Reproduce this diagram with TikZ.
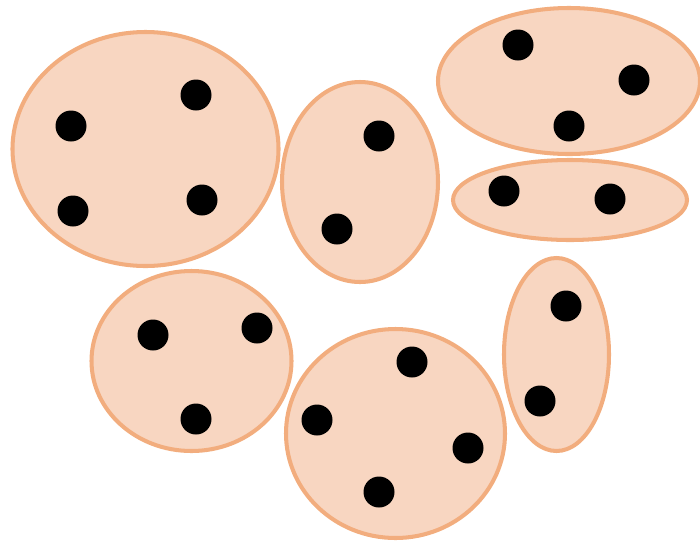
\documentclass[tikz,border=0pt]{standalone}
\usepackage{xcolor}
\usetikzlibrary{positioning}
\definecolor{blobfill}{HTML}{F8D6C1}
\definecolor{blobedge}{HTML}{F2AD7E}
\tikzset{
  blob/.style={fill=blobfill,draw=blobedge,line width=2.3pt},
  dot/.style={fill=black}
}

\begin{document}
\begin{tikzpicture}[x=0.02cm,y=-0.02cm]
  \useasboundingbox (0,0) rectangle (700,542);
  % clusters
  \draw[blob] (145.5,149) ellipse [x radius=133, y radius=117];
  \draw[blob] (360,182) ellipse [x radius=78, y radius=100];
  \draw[blob] (569,81) ellipse [x radius=131, y radius=73];
  \draw[blob] (570,200) ellipse [x radius=117, y radius=40];
  \draw[blob] (191.5,361) ellipse [x radius=100, y radius=90];
  \draw[blob] (395.5,433.5) ellipse [x radius=109.5, y radius=104.5];
  \draw[blob] (556.5,354.5) ellipse [x radius=52.5, y radius=96.5];
  % points
  \foreach \p in {(71,126),(196,95),(73,211),(202,200),
                  (379,136),(337,229),
                  (518,45),(634,80),(569,126),
                  (504,191),(610,199),
                  (153,335),(257,328),(196,419),
                  (412,362),(317,420),(468,448),(379,492),
                  (566,306),(540,401)}
    \fill[dot] \p circle [radius=15.5];
\end{tikzpicture}
\end{document}
